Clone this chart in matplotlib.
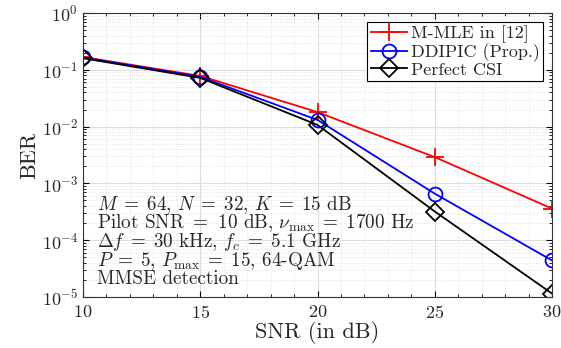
import numpy as np
import matplotlib
matplotlib.use("Agg")
import matplotlib.pyplot as plt
from matplotlib.ticker import LogLocator, NullFormatter

plt.rcParams['font.family'] = 'serif'
plt.rcParams['font.serif'] = ['cmr10', 'DejaVu Serif']
plt.rcParams['mathtext.fontset'] = 'cm'
plt.rcParams['axes.formatter.use_mathtext'] = True

# Data
snr = [10, 15, 20, 25, 30]
ber_mmle = [0.168, 0.078, 0.018, 2.9e-3, 3.6e-4]
ber_ddipic = [0.165, 0.075, 0.0131, 6.6e-4, 4.4e-5]
ber_perfect = [0.16, 0.072, 0.0107, 3.2e-4, 1.15e-5]

labels = ['M-MLE in [12]', 'DDIPIC (Prop.)', 'Perfect CSI']

info_lines = ['$M\\;=\\;64,\\,N\\;=\\;32,\\,K\\;=\\;15$ dB',
              'Pilot SNR $=$ 10 dB, $\\nu_{\\max}\\;=\\;1700$ Hz',
              '$\\Delta f\\;=\\;30$ kHz, $f_c\\;=\\;5.1$ GHz',
              '$P\\;=\\;5,\\,P_{\\max}\\;=\\;15$, 64-QAM',
              'MMSE detection']

fig = plt.figure(figsize=(5.61, 3.48), dpi=100)
ax = fig.add_axes([0.148, 0.1466, 0.836, 0.816])

ax.semilogy(snr, ber_mmle, color='red', marker='+', markersize=13, mew=1.3,
            lw=1.3, label=labels[0])
ax.semilogy(snr, ber_ddipic, color='blue', marker='o', markersize=10, mfc='none',
            mew=1.3, lw=1.3, label=labels[1])
ax.semilogy(snr, ber_perfect, color='black', marker='D', markersize=9, mfc='none',
            mew=1.3, lw=1.3, label=labels[2])

ax.set_xlim(10, 30)
ax.set_ylim(1e-5, 1)
ax.set_xticks([10, 15, 20, 25, 30])
ax.yaxis.set_major_locator(LogLocator(base=10, numticks=10))
ax.yaxis.set_minor_locator(LogLocator(base=10, subs=np.arange(2, 10), numticks=20))
ax.yaxis.set_minor_formatter(NullFormatter())
ax.xaxis.set_minor_locator(matplotlib.ticker.MultipleLocator(1))

ax.grid(True, which='major', color='#dddddd', lw=0.8)
ax.grid(True, which='minor', color='#dddddd', lw=0.6, ls=':')
ax.tick_params(which='both', direction='in', top=True, right=True, labelsize=13,
               labelcolor='#262626')
ax.tick_params(axis='x', which='minor', length=0)
ax.tick_params(which='major', length=4)
ax.tick_params(which='minor', length=2)
ax.tick_params(axis='x', pad=5)
for s in ax.spines.values():
    s.set_color('#333333')
    s.set_linewidth(0.8)

ax.set_xlabel('SNR (in dB)', fontsize=16, labelpad=0, color='#262626')
ax.set_ylabel('BER', fontsize=16, labelpad=2, color='#262626')

leg = ax.legend(loc='upper right', fontsize=13, fancybox=False, framealpha=1,
                edgecolor='black', borderpad=0.2, handlelength=2.0,
                handletextpad=0.2, labelspacing=0.0, borderaxespad=0.5)
leg.get_frame().set_linewidth(0.8)
for t in leg.get_texts():
    t.set_color('#262626')

# one text per line so the spacing stays even
baselines = [210, 228.5, 247, 265.5, 284]
for line, yb in zip(info_lines, baselines):
    fig.text(97 / 561, 1 - yb / 348, line, fontsize=13.8, va='baseline',
             ha='left', color='#262626')

fig.savefig('out.png', dpi=100)
